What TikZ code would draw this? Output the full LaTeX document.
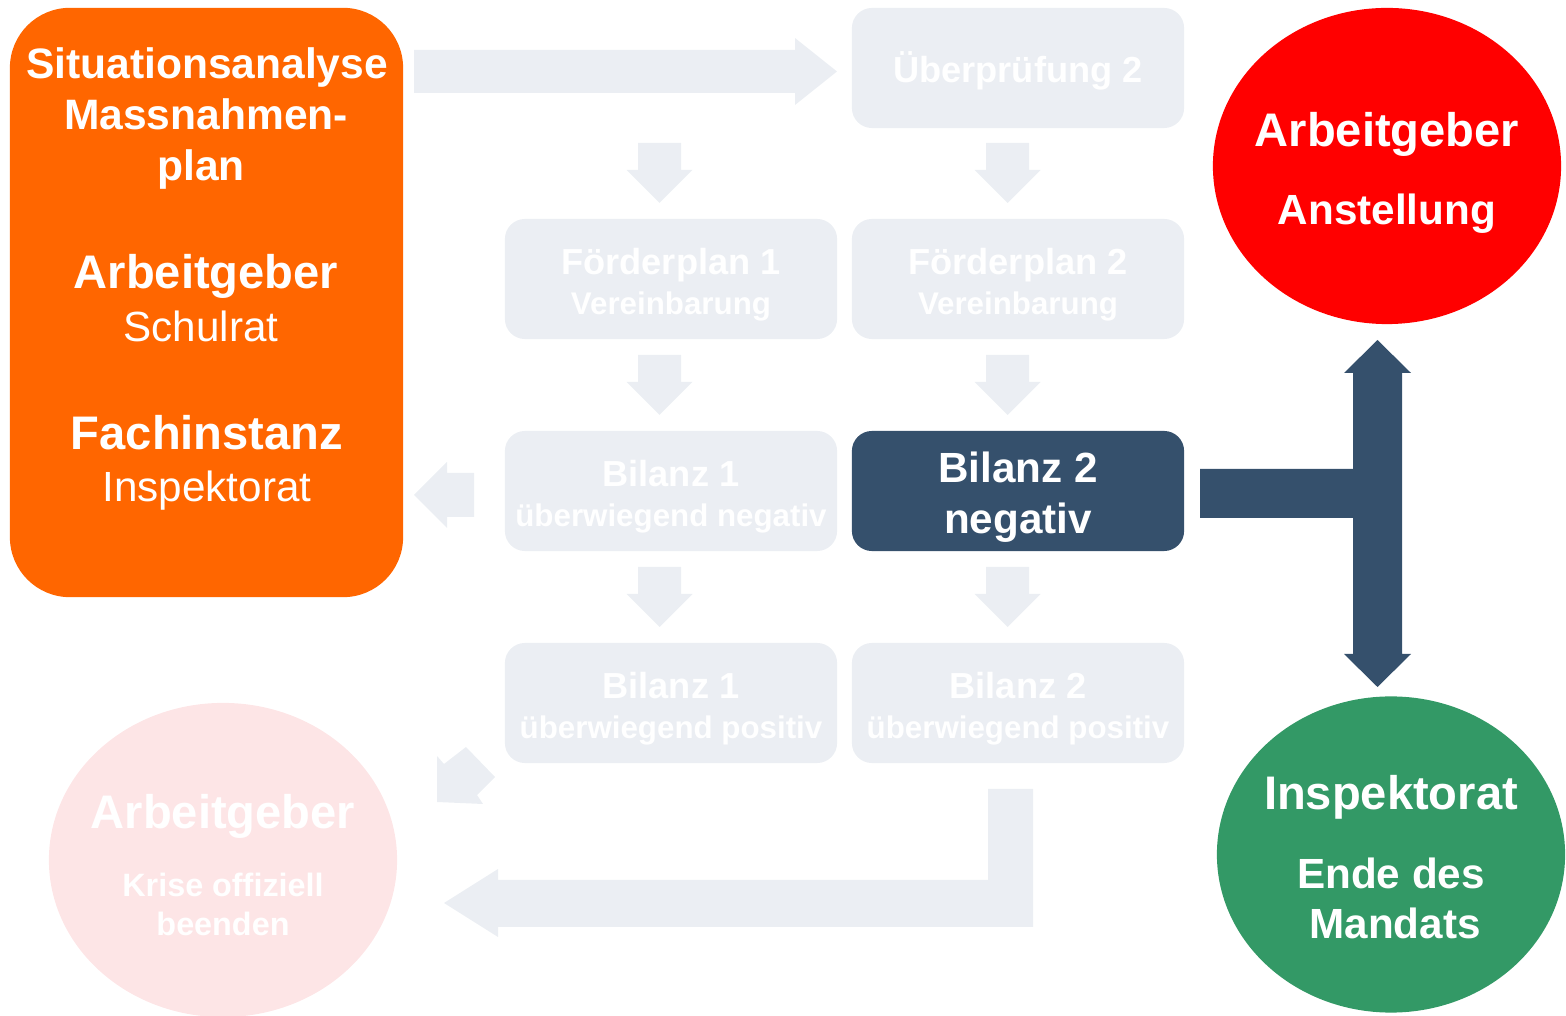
\documentclass[tikz,border=0pt]{standalone}
\usepackage{fontspec}
\setmainfont{Liberation Sans}
\usetikzlibrary{shapes.geometric}

\definecolor{hellgrau}{HTML}{EBEEF3}
\definecolor{dunkelblau}{HTML}{35506C}
\definecolor{orangekasten}{HTML}{FF6600}
\definecolor{rotkreis}{HTML}{FF0000}
\definecolor{gruenkreis}{HTML}{339966}
\definecolor{rosakreis}{HTML}{FDE5E6}

\newcommand{\gross}{\fontsize{13.4}{16}\selectfont\bfseries}
\newcommand{\oben}{\fontsize{12.1}{14}\selectfont\bfseries}
\newcommand{\mittel}{\fontsize{12}{14}\selectfont\bfseries}
\newcommand{\schlicht}{\fontsize{12}{14}\selectfont}
\newcommand{\kastentitel}{\fontsize{10.3}{12}\selectfont\bfseries}
\newcommand{\kastenzeile}{\fontsize{8.9}{11}\selectfont\bfseries}

\begin{document}
\begin{tikzpicture}[x=0.01cm,y=-0.01cm,
  kasten/.style={fill=hellgrau, rounded corners=0.2cm, minimum width=3.32cm, minimum height=1.2cm, inner sep=0pt},
  kreis/.style={ellipse, minimum width=3.48cm, minimum height=3.16cm, inner sep=0pt},
  txt/.style={anchor=base, text=white, inner sep=0pt}]

\useasboundingbox (0,0) rectangle (1566,1016);

%Pfeile hell
\fill[hellgrau] (414,50) -- (795,50) -- (795,38) -- (837,71.5) -- (795,105) -- (795,93) -- (414,93) -- cycle;
\foreach \x in {659.5,1007.5}
  \foreach \y in {143,355,567}
    \fill[hellgrau] (\x-21.5,\y) -- (\x+21.5,\y) -- (\x+21.5,\y+27) -- (\x+33,\y+27) -- (\x,\y+60) -- (\x-33,\y+27) -- (\x-21.5,\y+27) -- cycle;
\fill[hellgrau] (474,473) -- (447,473) -- (447,462) -- (414,495) -- (447,528) -- (447,517) -- (474,517) -- cycle;
\fill[hellgrau] (437,756) -- (444,764) -- (466,747) -- (495,777) -- (477,795) -- (483,804) -- (437,802) -- cycle;
\fill[hellgrau] (988,789) -- (1033,789) -- (1033,927) -- (498,927) -- (498,937) -- (444,903) -- (498,869) -- (498,880) -- (988,880) -- cycle;

%Pfeil dunkel
\fill[dunkelblau] (1200,469) -- (1353,469) -- (1353,373) -- (1344,373) -- (1377.5,340) -- (1411,373) -- (1402,373) -- (1402,654) -- (1411,654) -- (1377.5,687) -- (1344,654) -- (1353,654) -- (1353,518) -- (1200,518) -- cycle;

%Kasten links
\node[fill=orangekasten, rounded corners=0.6cm, minimum width=3.93cm, minimum height=5.89cm, inner sep=0pt] (analyse) at (206.5,302.5) {};

%Kaesten Mitte
\node[kasten] (pruefung2) at (1018,68) {};
\node[kasten] (foerder1) at (671,279) {};
\node[kasten] (foerder2) at (1018,279) {};
\node[kasten] (bilanzneg1) at (671,491) {};
\node[kasten, fill=dunkelblau] (bilanzneg2) at (1018,491) {};
\node[kasten] (bilanzpos1) at (671,703) {};
\node[kasten] (bilanzpos2) at (1018,703) {};

%Kreise
\node[kreis, fill=rotkreis] (anstellung) at (1387,166) {};
\node[kreis, fill=gruenkreis] (mandat) at (1391,854.5) {};
\node[kreis, fill=rosakreis, minimum height=3.14cm] (krise) at (223,860) {};

%Beschriftung
\node[txt, font=\oben] (t-situation) at (207,79) {Situationsanalyse};
\node[txt, font=\oben] (t-massnahmen) at (206,130) {Massnahmen-};
\node[txt, font=\oben] (t-plan) at (201,181) {plan};
\node[txt, font=\gross] (t-arbeitgeber) at (206,289) {Arbeitgeber};
\node[txt, font=\schlicht] (t-schulrat) at (201,342) {Schulrat};
\node[txt, font=\gross] (t-fachinstanz) at (207,450) {Fachinstanz};
\node[txt, font=\schlicht] (t-inspektorat) at (207,502) {Inspektorat};

\node[txt, font=\kastentitel] (t-pruefung2) at (1018,83) {Überprüfung 2};
\node[txt, font=\kastentitel] (t-foerder1) at (671,275) {Förderplan 1};
\node[txt, font=\kastenzeile] (t-verein1) at (671,315) {Vereinbarung};
\node[txt, font=\kastentitel] (t-foerder2) at (1018,275) {Förderplan 2};
\node[txt, font=\kastenzeile] (t-verein2) at (1018,315) {Vereinbarung};
\node[txt, font=\kastentitel] (t-bilanzneg1) at (671,487) {Bilanz 1};
\node[txt, font=\kastenzeile] (t-negativ1) at (671,527) {überwiegend negativ};
\node[txt, font=\mittel] (t-bilanzneg2) at (1018,483) {Bilanz 2};
\node[txt, font=\mittel] (t-negativ2) at (1018,534) {negativ};
\node[txt, font=\kastentitel] (t-bilanzpos1) at (671,699) {Bilanz 1};
\node[txt, font=\kastenzeile] (t-positiv1) at (671,739) {überwiegend positiv};
\node[txt, font=\kastentitel] (t-bilanzpos2) at (1018,699) {Bilanz 2};
\node[txt, font=\kastenzeile] (t-positiv2) at (1018,739) {überwiegend positiv};

\node[txt, font=\gross] (t-arbeitgeber2) at (1387,147) {Arbeitgeber};
\node[txt, font=\mittel] (t-anstellung) at (1387,225) {Anstellung};
\node[txt, font=\gross] (t-inspektorat2) at (1391,810) {Inspektorat};
\node[txt, font=\mittel] (t-ende) at (1391,889) {Ende des};
\node[txt, font=\mittel] (t-mandats) at (1395,939) {Mandats};
\node[txt, font=\gross] (t-arbeitgeber3) at (223,829) {Arbeitgeber};
\node[txt, font=\fontsize{9.2}{11}\selectfont\bfseries] (t-krise) at (223,897) {Krise offiziell};
\node[txt, font=\fontsize{9.2}{11}\selectfont\bfseries] (t-beenden) at (223,936) {beenden};

\end{tikzpicture}
\end{document}
